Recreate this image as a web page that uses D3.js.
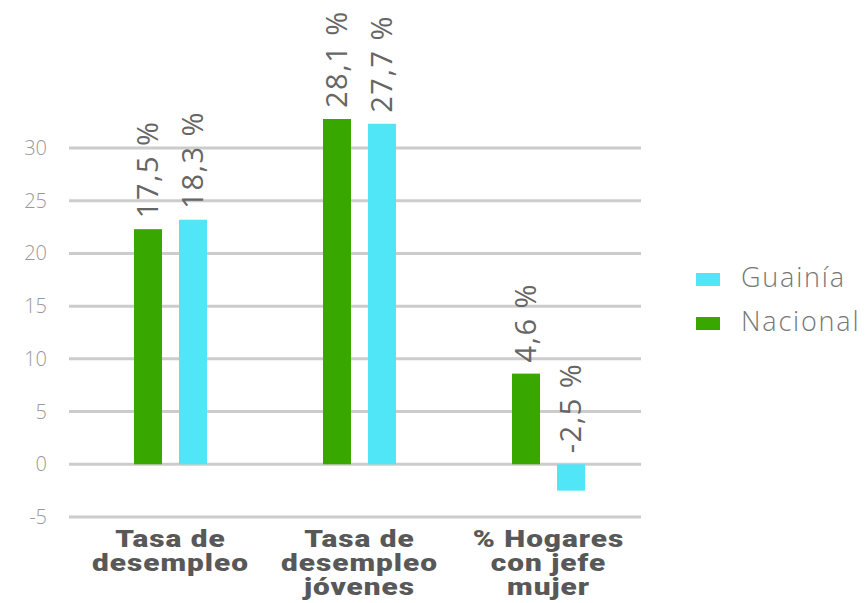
<!DOCTYPE html>
<html>
<head>
<meta charset="utf-8">
<script src="https://cdn.jsdelivr.net/npm/d3@7.9.0/dist/d3.min.js"></script>
<style>
  body { margin: 0; background: #fff; }
  svg { display: block; }
</style>
</head>
<body>
<svg id="chart" width="867" height="603"></svg>
<script>
// categories (one label line per entry)
const categories = [
  ['Tasa de', 'desempleo'],
  ['Tasa de', 'desempleo', 'jóvenes'],
  ['% Hogares', 'con jefe', 'mujer']
];
const series = ['Nacional', 'Guainía'];

// bar heights as drawn in the picture
const nacional = [22.3, 32.75, 8.6];
const guainia = [23.2, 32.3, -2.5];

// labels printed over the bars
const nacionalLabels = ['17,5 %', '28,1 %', '4,6 %'];
const guainiaLabels = ['18,3 %', '27,7 %', '-2,5 %'];

const yTicks = [-5, 0, 5, 10, 15, 20, 25, 30];

const colors = { 'Nacional': '#38a800', 'Guainía': '#50e5f7' };

const svg = d3.select('#chart');

let x = d3.scaleBand()
  .domain(d3.range(categories.length))
  .range([76, 643]);

// 28px bars with a 17px gap
let xInner = d3.scaleBand()
  .domain(series)
  .range([x.bandwidth() / 2 - 36.5, x.bandwidth() / 2 + 36.5])
  .paddingInner(17 / 45);

let y = d3.scaleLinear().domain([-5, 30]).range([517, 148]);

// gridlines
svg.append('g')
  .selectAll('line')
  .data(yTicks)
  .join('line')
  .attr('x1', 69)
  .attr('x2', 641)
  .attr('y1', d => y(d))
  .attr('y2', d => y(d))
  .attr('stroke', '#cccccc')
  .attr('stroke-width', 3);

// y tick labels
svg.append('g')
  .selectAll('text')
  .data(yTicks)
  .join('text')
  .attr('x', 47)
  .attr('y', d => y(d))
  .attr('dy', '0.35em')
  .attr('text-anchor', 'end')
  .attr('font-family', 'Open Sans')
  .attr('font-weight', 300)
  .attr('font-size', 20)
  .attr('fill', '#999999')
  .text(d => d);

// bars + labels
let rows = [];
categories.forEach((c, i) => {
  rows.push({ i, s: 'Nacional', v: nacional[i], label: nacionalLabels[i] });
  rows.push({ i, s: 'Guainía', v: guainia[i], label: guainiaLabels[i] });
});

svg.append('g')
  .selectAll('rect')
  .data(rows)
  .join('rect')
  .attr('x', d => x(d.i) + xInner(d.s))
  .attr('width', xInner.bandwidth())
  .attr('y', d => y(Math.max(0, d.v)))
  .attr('height', d => Math.abs(y(d.v) - y(0)))
  .attr('fill', d => colors[d.s]);

svg.append('g')
  .selectAll('text')
  .data(rows)
  .join('text')
  .attr('transform', d => {
    let cx = x(d.i) + xInner(d.s) + xInner.bandwidth() / 2;
    let cy = y(Math.max(0, d.v)) - 11;
    return `translate(${cx},${cy}) rotate(-90)`;
  })
  .attr('dy', '0.36em')
  .attr('font-family', 'Open Sans')
  .attr('font-size', 29)
  .attr('letter-spacing', 1.5)
  .attr('fill', '#666666')
  .text(d => d.label);

// category labels, glyphs stretched wider like the original
let cat = svg.append('g')
  .selectAll('g')
  .data(categories)
  .join('g')
  .attr('text-anchor', 'middle')
  .attr('font-family', 'Roboto')
  .attr('font-weight', 900)
  .attr('font-size', 24)
  .attr('letter-spacing', 0.8)
  .attr('fill', '#585858');

cat.selectAll('text')
  .data((d, i) => d.map((t, j) => ({ t, i, j })))
  .join('text')
  .attr('x', d => x(d.i) + x.bandwidth() / 2)
  .attr('y', d => 547 + d.j * 24)
  .text(d => d.t)
  .each(function () {
    let w = this.getComputedTextLength();
    d3.select(this)
      .attr('textLength', w * 1.24)
      .attr('lengthAdjust', 'spacingAndGlyphs');
  });

// legend
let legend = svg.append('g')
  .selectAll('g')
  .data(['Guainía', 'Nacional'])
  .join('g')
  .attr('transform', (d, i) => `translate(696,${273 + i * 44})`);

legend.append('rect')
  .attr('width', 24)
  .attr('height', 13)
  .attr('fill', d => colors[d]);

legend.append('text')
  .attr('x', 45)
  .attr('y', 14)
  .attr('font-family', 'Open Sans')
  .attr('font-weight', 300)
  .attr('font-size', 27)
  .attr('letter-spacing', 1.8)
  .attr('fill', '#777777')
  .text(d => d);
</script>
</body>
</html>
